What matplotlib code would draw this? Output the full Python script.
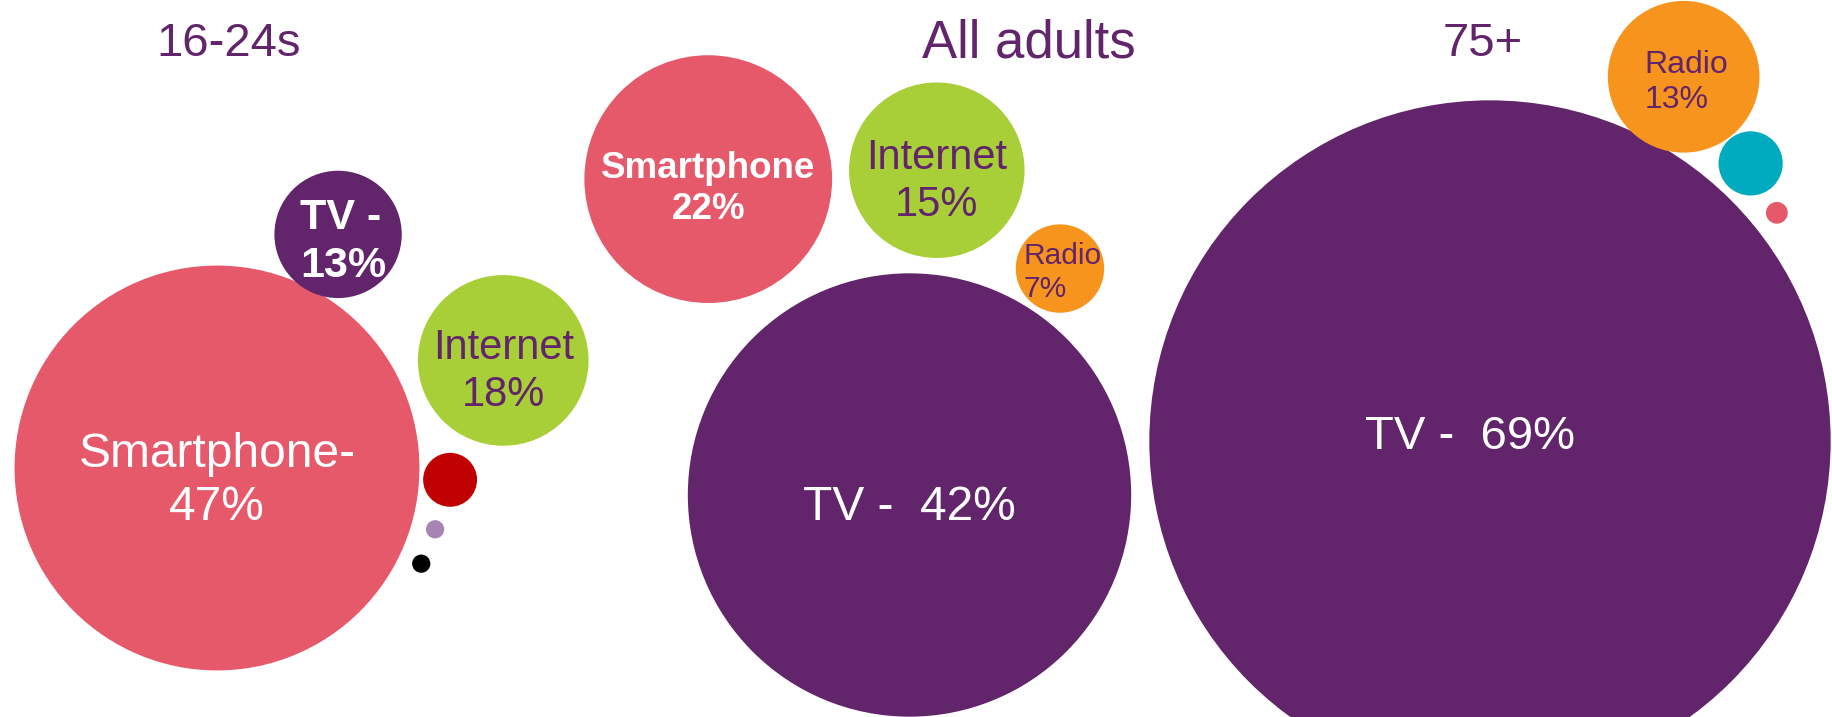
import numpy as np
import matplotlib.pyplot as plt
from matplotlib.patches import Circle

plt.rcParams['font.family'] = ['Liberation Sans', 'DejaVu Sans']

## Media share by age group (% of people naming it as the one device they'd miss most)
group_titles = ["16-24s", "All adults", "75+"]

young_media = ["Smartphone", "TV", "Internet", "other", "other", "other"]
young_share = [47, 13, 18, 5, 1.5, 1.5]
young_labels = ["Smartphone-\n{}%", "TV -\n{}%", "Internet\n{}%", "", "", ""]

adult_media = ["TV", "Smartphone", "Internet", "Radio"]
adult_share = [42, 22, 15, 7]
adult_labels = ["TV -  {}%", "Smartphone\n{}%", "Internet\n{}%", "Radio\n{}%"]

older_media = ["TV", "Radio", "other", "other"]
older_share = [69, 13, 5, 1.5]
older_labels = ["TV -  {}%", "Radio\n{}%", "", ""]

## Colours
PURPLE = '#62246A'
PINK = '#E5596A'
GREEN = '#A8CE38'
ORANGE = '#F7941E'
TEAL = '#00ABBF'
DARKRED = '#C00000'
LILAC = '#A884B3'

young_colors = [PINK, PURPLE, GREEN, DARKRED, LILAC, 'black']
adult_colors = [PURPLE, PINK, GREEN, ORANGE]
older_colors = [PURPLE, ORANGE, TEAL, PINK]

# label font: (size pt, weight, line alignment)
young_fonts = [(34.5, 'normal', 'center'), (31, 'bold', 'left'), (30, 'normal', 'center'),
               None, None, None]
adult_fonts = [(34.5, 'normal', 'center'), (26.5, 'bold', 'center'), (30, 'normal', 'center'),
               (21.5, 'normal', 'left')]
older_fonts = [(34, 'normal', 'center'), (23, 'normal', 'left'), None, None]

## Layout: biggest bubble is the anchor, others sit round it at (angle, gap)
EXPONENT = 0.9
young_layout = dict(anchor=(217, 468), scale=6.33,
                    around=[(-62.6, -3), (-20.6, 18), (2.9, 4), (15.7, 15), (25.1, 14)],
                    nudge={1: (5, -4)})
adult_layout = dict(anchor=(909.5, 495), scale=7.67,
                    around=[(-122.5, 29), (-85.2, 16.5), (-56.4, 6)],
                    nudge={3: (3, -4)})
older_layout = dict(anchor=(1490, 441), scale=7.54,
                    around=[(-62, -4), (-46.8, 8), (-38.5, 15)],
                    nudge={0: (-20, -17), 1: (3, -3)})

title_pos = [(229, 56, 34), (1029, 57, 38), (1483, 56, 34)]


def bubble_centres(radii, layout):
    ax0, ay0 = layout['anchor']
    centres = [(ax0, ay0)]
    for r, (theta, gap) in zip(radii[1:], layout['around']):
        d = radii[0] + r + gap
        t = np.radians(theta)
        centres.append((ax0 + d * np.cos(t), ay0 + d * np.sin(t)))
    return centres


fig = plt.figure(figsize=(18.32, 7.17), dpi=100)
ax = fig.add_axes([0, 0, 1, 1])
ax.set_xlim(0, 1832)
ax.set_ylim(717, 0)
ax.set_aspect('equal')
ax.axis('off')

groups = [
    (young_share, young_labels, young_colors, young_fonts, young_layout),
    (adult_share, adult_labels, adult_colors, adult_fonts, adult_layout),
    (older_share, older_labels, older_colors, older_fonts, older_layout),
]

for share, labels, colors, fonts, layout in groups:
    radii = [layout['scale'] * v ** EXPONENT for v in share]
    centres = bubble_centres(radii, layout)
    for i, (v, lab, col, r, (cx, cy)) in enumerate(zip(share, labels, colors, radii, centres)):
        ax.add_patch(Circle((cx, cy), r, facecolor=col, edgecolor='none'))
        if not lab:
            continue
        size, weight, align = fonts[i]
        dx, dy = layout['nudge'].get(i, (0, 0))
        txt_col = 'white' if col in (PINK, PURPLE) else PURPLE
        # va='center' sits a bit high for cap-height text, push it down
        ax.text(cx + dx, cy + dy + 0.37 * size, lab.format(v), ha='center', va='center',
                multialignment=align, color=txt_col, fontsize=size, fontweight=weight,
                linespacing=1.24)

for title, (tx, ty, fs) in zip(group_titles, title_pos):
    ax.text(tx, ty, title, ha='center', va='baseline', color=PURPLE, fontsize=fs)

fig.savefig('out.png', dpi=100)
